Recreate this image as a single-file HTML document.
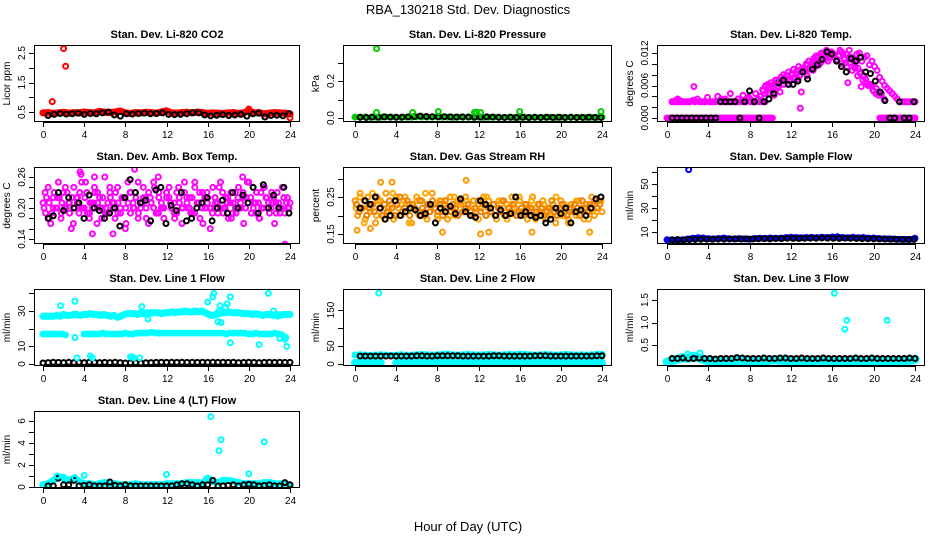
<!DOCTYPE html>
<html><head><meta charset="utf-8"><title>RBA_130218 Std. Dev. Diagnostics</title>
<style>
html,body{margin:0;padding:0;background:#fff;}
svg{display:block;font-family:"Liberation Sans",sans-serif;}
</style></head>
<body>
<svg id="chart" width="936" height="540" viewBox="0 0 936 540" xmlns="http://www.w3.org/2000/svg">
<text x="468" y="14" text-anchor="middle" font-size="13">RBA_130218  Std. Dev. Diagnostics</text>
<text x="468" y="531" text-anchor="middle" font-size="13">Hour of Day (UTC)</text>
</svg>
<script>
// ---- data (x spread evenly over [start,end] hours) ----
const xTicks = [0,4,8,12,16,20,24];

const co2Red = [0.47,0.48,0.45,0.47,0.49,0.46,0.48,0.47,0.5,0.48,0.47,0.52,0.49,0.48,0.5,0.53,0.47,0.45,0.48,0.47,0.49,0.48,0.46,0.5,0.54,0.47,0.46,0.48,0.49,0.47,0.5,0.48,0.45,0.47,0.46,0.45,0.47,0.48,0.45,0.47,0.55,0.47,0.48,0.44,0.46,0.48,0.47,0.46,0.44];
const co2Black = [0.38,0.42,0.45,0.43,0.44,0.46,0.42,0.45,0.44,0.47,0.5,0.4,0.36,0.44,0.43,0.45,0.46,0.44,0.45,0.47,0.42,0.41,0.42,0.44,0.48,0.47,0.4,0.37,0.39,0.41,0.38,0.4,0.42,0.36,0.44,0.46,0.33,0.38,0.39,0.37,0.44];
const co2OutX = [0.9,2.0,2.2,20.0,24.0];
const co2OutY = [0.85,2.65,2.05,0.6,0.3];

const presGreen = [0.005,0.004,0.006,0.003,0.005,0.004,0.006,0.005,0.004,0.003,0.005,0.004,0.006,0.005,0.004,0.005,0.006,0.004,0.005,0.003,0.005,0.004,0.006,0.004,0.005,0.003,0.004,0.005,0.003,0.004,0.005,0.003,0.004,0.005,0.003,0.004,0.003,0.004,0.005,0.003,0.004,0.003,0.004,0.003,0.005,0.003,0.004,0.003,0.005];
const presBlack = [0.004,0.003,0.005,0.004,0.006,0.005,0.004,0.005,0.006,0.008,0.01,0.008,0.007,0.006,0.007,0.006,0.005,0.006,0.005,0.004,0.005,0.006,0.005,0.004,0.003,0.004,0.003,0.004,0.003,0.004,0.003,0.004,0.003,0.004,0.003,0.004,0.003,0.003,0.004,0.003,0.003];
const presOutX = [2.1,2.1,5.6,8.1,11.6,11.8,12.2,16.0,23.9];
const presOutY = [0.375,0.03,0.03,0.035,0.03,0.032,0.03,0.035,0.035];

const tempMagA = [0.003,0.003,0.003,0.003,0.003,0.003,0.003,0.003,0.0032,0.003,0.0035,0.003,0.003,0.003,0.0038,0.003,0.003,0.003,0.004,0.003,0.003,0.0035,0.003,0.0045,0.003,0.003,0.0035,0.003,0.0042,0.003,0.0038,0.003,0.003,0.0045,0.0035,0.004,0.005,0.006,0.0055,0.0065,0.006,0.007,0.0068,0.0075,0.008,0.0072,0.0085,0.008,0.009,0.0082,0.0095,0.0088,0.0092,0.01,0.0105,0.0098,0.011,0.0115,0.0108,0.012,0.0118,0.0125,0.0112,0.0122,0.0118,0.0105,0.0115,0.0122,0.011,0.0118,0.0125,0.0112,0.0108,0.0118,0.012,0.0105,0.0112,0.0115,0.0098,0.0105,0.0095,0.0088,0.0075,0.0068,0.006,0.0055,0.005,0.0045,0.004,0.0035,0.003,0.003,0.003,0.003,0.003,0.003,0.003];
const tempMagB = [0.0058,0.0045,0.006,0.0042,0.0055,0.0048,0.0068,0.007,0.0062,0.008,0.0075,0.0072,0.0085,0.009,0.0078,0.0095,0.0088,0.0102,0.0098,0.0108,0.0112,0.0105,0.012,0.0115,0.0108,0.0125,0.0118,0.0102,0.0112,0.0108,0.0095,0.0092,0.0085,0.0078,0.0065,0.006,0.0052,0.0045,0.0048];
const tempMagE = [0.004,0.0052,0.0045,0.0062,0.0055,0.0048,0.0065,0.0058,0.007,0.0062,0.0078,0.0068,0.0082,0.0072,0.0088,0.0078,0.0092,0.0085,0.0098,0.009,0.0105,0.0095,0.0112,0.0102,0.0118,0.0108,0.0122,0.0112,0.0118,0.0105,0.0115,0.01,0.0108,0.0095,0.0102,0.0088,0.0092,0.0078,0.0082,0.007,0.0072,0.006,0.0062,0.005,0.0055,0.0042,0.0045,0.0035];
const tempMagF = [0.003,0.0035,0.003,0.003,0.0032,0.003,0.003,0.003,0.003,0.0035,0.003,0.003,0.003,0.003,0.0038,0.003,0.003,0.003];
const tempMagC = [0,0,0,0,0,0,0,0,0,0,0,0,0,0,0,0,0,0,0,0,0,0,0,0,0,0,0,0,0,0,0,0,0,0,0,0,0,0,0,0,0];
const tempMagD = [0,0,0,0,0,0,0,0,0,0,0,0,0,0,0];
const tempBlack = [0,0,0,0,0,0,0,0,0,0,0.003,0.003,0.003,0.003,0,0.003,0.005,0.003,0,0.003,0.0035,0.0045,0.0065,0.007,0.0062,0.0062,0.0068,0.0085,0.0072,0.009,0.0098,0.0108,0.0122,0.0118,0.0105,0.0095,0.0085,0.011,0.0105,0.0112,0.0085,0.0082,0.0068,0.0048,0.0032,0,0,0.003,0,0,0.003];
const tempOutX = [2.6,12.9,13.0,10.5,17.5,18.8];
const tempOutY = [0.0058,0.0018,0.0048,0.007,0.0065,0.0058];

const boxMag = [0.21,0.19,0.24,0.17,0.22,0.2,0.25,0.18,0.23,0.2,0.21,0.16,0.24,0.22,0.19,0.25,0.2,0.23,0.18,0.21,0.24,0.17,0.22,0.2,0.26,0.19,0.23,0.21,0.18,0.24,0.2,0.22,0.16,0.25,0.19,0.21,0.23,0.18,0.2,0.24,0.22,0.17,0.21,0.25,0.19,0.23,0.2,0.18,0.22,0.24,0.2,0.19,0.23,0.21,0.17,0.25,0.2,0.22,0.19,0.24,0.21,0.18,0.23,0.2,0.22,0.16,0.24,0.21,0.19,0.25,0.2,0.22,0.18,0.23,0.21,0.19,0.24,0.2,0.17,0.22,0.25,0.19,0.21,0.23,0.18,0.2,0.24,0.22,0.19,0.21,0.17,0.23,0.2,0.24,0.19,0.22,0.21];
const boxMag2 = [0.23,0.18,0.2,0.22,0.19,0.24,0.21,0.17,0.22,0.2,0.25,0.19,0.21,0.23,0.18,0.2,0.24,0.21,0.19,0.22,0.17,0.23,0.2,0.25,0.21,0.18,0.22,0.24,0.19,0.2,0.23,0.21,0.18,0.24,0.2,0.22,0.19,0.25,0.21,0.17,0.23,0.2,0.22,0.24,0.19,0.21,0.18,0.23,0.2,0.22,0.25,0.19,0.21,0.18,0.24,0.2,0.23,0.21,0.19,0.22,0.2];
const boxMag3 = [0.2,0.22,0.21,0.19,0.23,0.2,0.22,0.21,0.2,0.23,0.19,0.22,0.2,0.21,0.23,0.2,0.22,0.19,0.21,0.2,0.23,0.21,0.2,0.22,0.19,0.21,0.22,0.2,0.23,0.21,0.19,0.22,0.2,0.21,0.23,0.2,0.22,0.19,0.21,0.22,0.2,0.23,0.21,0.2,0.19,0.22,0.21,0.2,0.23,0.22,0.2,0.21,0.19,0.22,0.2,0.23,0.21,0.2,0.22,0.19,0.21,0.23,0.2,0.22,0.21,0.2,0.19,0.22,0.21,0.2,0.23,0.2,0.22,0.21,0.19,0.2,0.22,0.21,0.23,0.2,0.21,0.22,0.2,0.19,0.21,0.23,0.2,0.22,0.21,0.2,0.22,0.19,0.21,0.2,0.22,0.21,0.2];
const boxBlack = [0.18,0.185,0.23,0.195,0.22,0.2,0.21,0.18,0.225,0.2,0.195,0.18,0.19,0.2,0.165,0.22,0.255,0.23,0.21,0.215,0.175,0.235,0.24,0.17,0.205,0.195,0.23,0.175,0.18,0.2,0.21,0.22,0.175,0.2,0.215,0.19,0.23,0.2,0.225,0.21,0.24,0.19,0.245,0.2,0.225,0.2,0.24,0.19];
const boxOutX = [3.6,3.7,8.9,5.0,11.2,19.4,23.5,4.8,6.8];
const boxOutY = [0.27,0.265,0.275,0.26,0.26,0.26,0.13,0.15,0.15];

const rhOrA = [0.24,0.2,0.26,0.22,0.19,0.25,0.21,0.23,0.18,0.24,0.22,0.2,0.26,0.21,0.23,0.19,0.25,0.22,0.2,0.24,0.21,0.23,0.18,0.22,0.25,0.2,0.24,0.21,0.19,0.23,0.26,0.22,0.2,0.24,0.21,0.23,0.19,0.25,0.22,0.2,0.24,0.23,0.21,0.25,0.22,0.2,0.24,0.21,0.23,0.22,0.25,0.2,0.24,0.21,0.23,0.19,0.22,0.24,0.2,0.23,0.21,0.25,0.22,0.2,0.24,0.21,0.23,0.19,0.22,0.25,0.2,0.23,0.21,0.24,0.19,0.22,0.2,0.23,0.18,0.21,0.24,0.2,0.22,0.19,0.23,0.21,0.2,0.24,0.22,0.19,0.23,0.21,0.25,0.2,0.22,0.24,0.21];
const rhOrB = [0.22,0.25,0.18,0.23,0.26,0.2,0.24,0.19,0.22,0.26,0.2,0.23,0.25,0.18,0.22,0.24,0.2,0.26,0.21,0.23,0.19,0.24,0.22,0.2,0.25,0.23,0.21,0.24,0.2,0.22,0.19,0.23,0.25,0.21,0.2,0.24,0.22,0.19,0.23,0.21,0.25,0.2,0.22,0.24,0.19,0.21,0.23,0.2,0.22,0.25,0.2,0.23,0.18,0.21,0.24,0.2,0.22,0.19,0.23,0.21,0.24];
const rhOrC = [0.23,0.21,0.22,0.24,0.2,0.22,0.23,0.21,0.25,0.22,0.2,0.23,0.21,0.24,0.22,0.2,0.23,0.25,0.21,0.22,0.24,0.2,0.23,0.22,0.21,0.24,0.22,0.2,0.23,0.21,0.24,0.22,0.21,0.23,0.2,0.24,0.22,0.21,0.23,0.22,0.2,0.24,0.21,0.22,0.23,0.21,0.2,0.22,0.24,0.21,0.23,0.2,0.22,0.21,0.23,0.2,0.22,0.21,0.24,0.2,0.22,0.21,0.23,0.2,0.21,0.22,0.2,0.23,0.21,0.22,0.2,0.21,0.23,0.22,0.2,0.21,0.22,0.24,0.21,0.2,0.22,0.23,0.21,0.2,0.22,0.21,0.23,0.22,0.2,0.24,0.22,0.21,0.23,0.22,0.24,0.22,0.23];
const rhBlack = [0.22,0.24,0.23,0.25,0.22,0.19,0.2,0.24,0.2,0.21,0.22,0.215,0.2,0.205,0.23,0.18,0.22,0.21,0.225,0.205,0.245,0.21,0.2,0.195,0.24,0.23,0.22,0.2,0.215,0.2,0.205,0.25,0.2,0.21,0.2,0.195,0.2,0.18,0.19,0.22,0.205,0.22,0.18,0.21,0.215,0.2,0.22,0.245,0.25];
const rhOutX = [2.5,3.6,10.8,0.2,1.5,12.2,8.5,13.0,17.2,22.8];
const rhOutY = [0.29,0.29,0.295,0.16,0.165,0.15,0.155,0.155,0.155,0.155];

const sfBlue = [3.5,3.4,3.6,3.5,4.2,4.8,5.2,5.0,4.5,4.3,4.6,5.0,4.4,4.2,4.5,4.3,4.0,4.6,4.8,4.7,5.0,4.8,4.9,5.3,5.6,5.4,5.2,5.4,5.5,5.3,5.6,5.4,5.8,6.0,5.4,5.2,5.6,5.2,5.4,4.9,5.0,4.6,4.4,4.3,4.2,4.0,3.9,3.8,4.8];
const sfBlack = [3.4,3.5,3.4,3.6,3.8,3.9,4.0,3.9,4.1,4.0,4.2,4.3,4.1,4.3,4.2,4.4,4.5,4.3,4.6,4.5,4.8,4.7,4.6,4.8,4.9,4.8,5.0,4.9,4.8,4.7,4.9,4.8,4.6,4.5,4.4,4.3,4.2,4.1,4.0,3.9,3.8,3.7,3.8];
const sfOutX = [2.1];
const sfOutY = [62];

const l1Upper = [27,27,27,27,27.5,27,28,27.5,27.5,28,28,27.5,28,28,28.5,28,28,27.5,28,27.5,27,27.5,26.5,27,28,28.5,28.5,28.5,28,29,28.5,29,29,29,29,28.5,29,29,29.5,29,29.5,29.5,30,29.5,29.5,30,29.5,30,29,28,27.5,28,28.5,29,29,29.5,29,29,29,28.5,28.5,28.5,28,28.5,28,27.5,28,28,27.5,28,27.5,28,28,28];
const l1Lower = [17,17,17,17,17,17,16.5,null,null,null,null,17,17,17,17,17,17.5,17,17,17,17,17,17.5,17,17,17.5,17.5,17.5,17.5,18,17.5,17.5,17.5,17.5,17.5,17.5,17.5,17.5,17.5,17.5,17.5,17.5,17.5,17.5,17.5,17.5,17.5,17.5,17.5,17,17.5,17.5,17.5,17.5,17.5,17,17,17.5,17,17,17,17,17.5,17,16.5,15];
const l1Black = [0.6,0.8,1.0,0.9,0.8,1.0,0.8,0.9,0.8,1.0,0.9,0.8,0.9,0.8,1.0,0.8,0.6,0.7,0.8,0.6,0.7,0.8,0.9,1.0,0.9,1.0,0.9,1.0,0.9,1.0,0.9,1.0,0.9,1.0,0.9,1.0,0.9,1.0,0.8,0.9,1.0,0.9,0.8,0.9,1.0,0.9,1.0,0.9,0.9];
const l1OutX = [1.7,3.1,3.1,3.3,8.5,9.4,9.6,10.2,4.6,4.8,8.6,8.8,16.0,16.5,16.6,17.1,17.0,17.3,17.2,17.7,17.9,18.2,18.2,21.0,21.9,22.4,22.8,23.0,23.5,23.7,23.4];
const l1OutY = [33,35.5,15,3.5,4,3.5,32.5,25.5,4.5,3.5,4,3.5,35,38,40,30,24,23.5,33,32,34,12,38,11,40,30,27,14.5,14,10,28];

const l2Upper = [25,26,25,24,25,26,25,24,25,26,25,25,26,27,26,25,26,27,28,26,25,26,27,26,25,26,27,26,25,26,27,26,28,27,26,25,26,27,26,25,26,27,26,25,26,25,26,27,27];
const l2Lower = [3,3,3,3,3,3,null,null,3,3,4,3,4,3,4,3,4,5,4,3,4,3,4,3,4,3,4,5,4,3,4,3,4,3,4,3,4,3,4,5,4,3,4,3,4,3,4,3,3];
const l2Black = [22,22,22,22,22,22,22,22,22,22,22,23,23,22,22,23,23,23,23,23,22,22,22,22,22,22,23,23,22,22,22,22,22,22,23,23,23,22,22,22,22,22,22,22,22,22,23,23];
const l2OutX = [2.3];
const l2OutY = [197];

const l3Cyan = [0.12,0.15,0.18,0.22,0.2,0.25,0.22,0.18,0.16,0.14,0.15,0.14,0.16,0.15,0.17,0.15,0.14,0.16,0.15,0.14,0.16,0.18,0.15,0.14,0.16,0.15,0.14,0.16,0.15,0.17,0.15,0.16,0.14,0.15,0.16,0.14,0.15,0.16,0.14,0.15,0.16,0.15,0.14,0.16,0.15,0.14,0.15,0.16,0.18];
const l3Black = [0.2,0.2,0.21,0.2,0.2,0.21,0.2,0.2,0.19,0.2,0.2,0.2,0.22,0.21,0.2,0.2,0.2,0.21,0.2,0.2,0.21,0.21,0.2,0.2,0.21,0.2,0.2,0.2,0.21,0.2,0.2,0.2,0.2,0.2,0.21,0.2,0.2,0.21,0.2,0.2,0.2,0.2,0.2,0.2,0.21,0.2];
const l3OutX = [16.2,17.2,17.4,21.3,2.0,3.2];
const l3OutY = [1.65,0.85,1.05,1.05,0.3,0.32];

const l4Cyan = [0.2,0.3,0.6,0.9,0.8,0.6,0.8,0.5,0.3,0.3,0.2,0.3,0.4,0.3,0.3,0.2,0.2,0.2,0.3,0.2,0.2,0.2,0.2,0.2,0.3,0.3,0.3,0.3,0.4,0.4,0.4,0.3,0.8,0.5,0.4,0.6,0.6,0.5,0.4,0.3,0.3,0.3,0.3,0.4,0.4,0.3,0.3,0.2,0.2];
const l4Black = [0.1,0.1,0.8,0.2,0.2,0.6,0.1,0.15,0.2,0.1,0.1,0.1,0.45,0.15,0.1,0.2,0.1,0.1,0.1,0.1,0.1,0.1,0.1,0.1,0.1,0.2,0.3,0.3,0.2,0.1,0.2,0.2,0.6,0.1,0.1,0.15,0.2,0.1,0.2,0.25,0.2,0.1,0.15,0.2,0.1,0.1,0.4,0.2];
const l4OutX = [16.3,17.1,17.3,21.5,12.0,4.0,20.0,1.4,2.0,3.1];
const l4OutY = [6.4,3.3,4.3,4.1,1.15,1.05,1.2,1.0,0.9,0.85];

const yTicks1 = [0.5,1,1.5,2,2.5], yLab1 = [0.5,1.5,2.5], yTxt1 = ["0.5","1.5","2.5"];
const yTicks2 = [0,0.1,0.2,0.3], yLab2 = [0,0.2], yTxt2 = ["0.0","0.2"];
const yTicks3 = [0,0.002,0.004,0.006,0.008,0.010,0.012], yLab3 = [0,0.006,0.012], yTxt3 = ["0.000","0.006","0.012"];
const yTicks4 = [0.14,0.16,0.18,0.20,0.22,0.24,0.26], yLab4 = [0.14,0.20,0.26], yTxt4 = ["0.14","0.20","0.26"];
const yTicks5 = [0.15,0.20,0.25,0.30], yLab5 = [0.15,0.25], yTxt5 = ["0.15","0.25"];
const yTicks6 = [10,20,30,40,50,60], yLab6 = [10,30,50], yTxt6 = ["10","30","50"];
const yTicks7 = [0,10,20,30,40], yLab7 = [0,10,30], yTxt7 = ["0","10","30"];
const yTicks8 = [0,50,100,150], yLab8 = [0,50,150], yTxt8 = ["0","50","150"];
const yTicks9 = [0.5,1.0,1.5], yLab9 = [0.5,1.0,1.5], yTxt9 = ["0.5","1.0","1.5"];
const yTicks10 = [0,1,2,3,4,5,6], yLab10 = [0,2,4,6], yTxt10 = ["0","2","4","6"];

// ---- layout ----
const NS = "http://www.w3.org/2000/svg";
const svg = document.getElementById('chart');
const COLS = [{bx0:34,bx1:300,x0:43,x24:290},{bx0:343,bx1:612,x0:355,x24:602},{bx0:657,bx1:925,x0:667,x24:915}];
const ROWS = [{by0:45,by1:122},{by0:167,by1:244},{by0:289,by1:366},{by0:411,by1:488}];

function mk(tag, attrs, parent){const e=document.createElementNS(NS,tag);for(const k in attrs)e.setAttribute(k,attrs[k]);(parent||svg).appendChild(e);return e;}

const MAG='#ff00ff', CYA='#00ffff';
const panels = [
 {id:'co2',title:'Stan. Dev. Li-820 CO2',ylab:'Licor ppm',r:0,c:0,a:[0.5,112,2.5,53],yt:yTicks1,yl:yLab1,ytx:yTxt1,
  series:[{v:co2Red,s:0,e:24,col:'#ff0000',band:7},{v:co2Black,s:0.5,e:23.9,col:'#000'}],out:{x:co2OutX,y:co2OutY,col:'#ff0000'}},
 {id:'pressure',title:'Stan. Dev. Li-820 Pressure',ylab:'kPa',r:0,c:1,a:[0,118,0.2,81],yt:yTicks2,yl:yLab2,ytx:yTxt2,
  series:[{v:presGreen,s:0,e:24,col:'#00cc00',band:5},{v:presBlack,s:0.5,e:23.9,col:'#000'}],out:{x:presOutX,y:presOutY,col:'#00cc00'}},
 {id:'li820-temp',title:'Stan. Dev. Li-820 Temp.',ylab:'degrees C',r:0,c:2,a:[0,118,0.012,53],yt:yTicks3,yl:yLab3,ytx:yTxt3,
  series:[{v:tempMagA,s:0.5,e:24,col:MAG},{v:tempMagF,s:0.5,e:9.5,col:MAG,band:6},{v:tempMagB,s:9.5,e:20.5,col:MAG},{v:tempMagE,s:9.0,e:21.0,col:MAG},{v:tempMagC,s:0,e:10.2,col:MAG,band:6},{v:tempMagD,s:20.6,e:24,col:MAG,band:6},{v:tempBlack,s:0.5,e:23.9,col:'#000'}],out:{x:tempOutX,y:tempOutY,col:MAG}},
 {id:'amb-box-temp',title:'Stan. Dev. Amb. Box Temp.',ylab:'degrees C',r:1,c:0,a:[0.14,239,0.26,177],yt:yTicks4,yl:yLab4,ytx:yTxt4,
  series:[{v:boxMag,s:0,e:24,col:MAG},{v:boxMag2,s:0.2,e:23.8,col:MAG},{v:boxMag3,s:0.1,e:23.9,col:MAG},{v:boxBlack,s:0.5,e:23.9,col:'#000'}],out:{x:boxOutX,y:boxOutY,col:MAG}},
 {id:'gas-stream-rh',title:'Stan. Dev. Gas Stream RH',ylab:'percent',r:1,c:1,a:[0.15,234,0.25,197],yt:yTicks5,yl:yLab5,ytx:yTxt5,
  series:[{v:rhOrA,s:0,e:24,col:'#ff9900'},{v:rhOrB,s:0.1,e:23.9,col:'#ffaa00'},{v:rhOrC,s:0.15,e:23.8,col:'#f08000'},{v:rhBlack,s:0.5,e:23.9,col:'#000'}],out:{x:rhOutX,y:rhOutY,col:'#ff9900'}},
 {id:'sample-flow',title:'Stan. Dev. Sample Flow',ylab:'ml/min',r:1,c:2,a:[10,232,50,184],yt:yTicks6,yl:yLab6,ytx:yTxt6,
  series:[{v:sfBlue,s:0,e:24,col:'#0000ff',band:6},{v:sfBlack,s:0.5,e:23.9,col:'#000'}],out:{x:sfOutX,y:sfOutY,col:'#0000ff'}},
 {id:'line1-flow',title:'Stan. Dev. Line 1 Flow',ylab:'ml/min',r:2,c:0,a:[0,364,30,311],yt:yTicks7,yl:yLab7,ytx:yTxt7,
  series:[{v:l1Upper,s:0,e:24,col:CYA,band:7},{v:l1Lower,s:0,e:23.6,col:CYA,band:6},{v:l1Black,s:0,e:24,col:'#000'}],out:{x:l1OutX,y:l1OutY,col:CYA}},
 {id:'line2-flow',title:'Stan. Dev. Line 2 Flow',ylab:'ml/min',r:2,c:1,a:[0,364,150,310],yt:yTicks8,yl:yLab8,ytx:yTxt8,
  series:[{v:l2Upper,s:0,e:24,col:CYA,band:6},{v:l2Lower,s:0,e:24,col:CYA,band:8},{v:l2Black,s:0.5,e:24,col:'#000'}],out:{x:l2OutX,y:l2OutY,col:CYA}},
 {id:'line3-flow',title:'Stan. Dev. Line 3 Flow',ylab:'ml/min',r:2,c:2,a:[0.5,345,1.5,300],yt:yTicks9,yl:yLab9,ytx:yTxt9,
  series:[{v:l3Cyan,s:0,e:24,col:CYA,band:9},{v:l3Black,s:0.5,e:24,col:'#000'}],out:{x:l3OutX,y:l3OutY,col:CYA}},
 {id:'line4-flow',title:'Stan. Dev. Line 4 (LT) Flow',ylab:'ml/min',r:3,c:0,a:[0,487,6,421],yt:yTicks10,yl:yLab10,ytx:yTxt10,
  series:[{v:l4Cyan,s:0,e:24,col:CYA,band:7},{v:l4Black,s:0.5,e:24,col:'#000'}],out:{x:l4OutX,y:l4OutY,col:CYA}}
];

panels.forEach(p=>{
  const C=COLS[p.c], R=ROWS[p.r];
  const g=mk('g',{});
  
  
  const xs=h=>C.x0+(C.x24-C.x0)*h/24;
  const ys=v=>p.a[1]+(v-p.a[0])*(p.a[3]-p.a[1])/(p.a[2]-p.a[0]);
  const clip='clip-'+p.id;
  const cp=mk('clipPath',{id:clip},g);
  mk('rect',{x:C.bx0,y:R.by0,width:C.bx1-C.bx0,height:R.by1-R.by0},cp);
  const t=mk('text',{x:(C.bx0+C.bx1)/2,y:R.by0-7,'text-anchor':'middle','font-size':'11','font-weight':'bold'},g);
  t.textContent=p.title;
  
  
  const yl=mk('text',{x:0,y:0,'text-anchor':'middle','font-size':'10',transform:`translate(${C.bx0-24},${(R.by0+R.by1)/2}) rotate(-90)`},g);
  yl.textContent=p.ylab;
  
  
  const pts=mk('g',{'clip-path':`url(#${clip})`,fill:'none','stroke-width':'2'},g);
  
  
  p.series.forEach(s=>{
    const n=s.v.length;
    const hx=i=>s.s+(s.e-s.s)*(n>1?i/(n-1):0);
    if(s.band){
      let seg=[];
      const flush=()=>{if(seg.length){const pl=mk('polyline',{points:seg.join(' '),stroke:s.col,'stroke-width':s.band,'stroke-linejoin':'round','stroke-linecap':'round',fill:'none'},pts);
        
        
        seg=[];}};
      s.v.forEach((v,i)=>{if(v===null){flush();return;}seg.push(xs(hx(i)).toFixed(1)+','+ys(v).toFixed(1));});
      flush();
    }
    s.v.forEach((v,i)=>{
      if(v===null) return;
      const c=mk('circle',{cx:xs(hx(i)),cy:ys(v),r:2.5,stroke:s.col},pts);
      
      
    });
  });
  p.out.x.forEach((h,i)=>{
    const c=mk('circle',{cx:xs(h),cy:ys(p.out.y[i]),r:2.5,stroke:p.out.col},pts);
    
    
  });
  const b=mk('rect',{x:C.bx0+0.5,y:R.by0+0.5,width:C.bx1-C.bx0-1,height:R.by1-R.by0-1,fill:'none',stroke:'#000','stroke-width':'1'},g);
  
  
  const xa=mk('g',{stroke:'#000','stroke-width':'1'},g);
  
  
  mk('line',{x1:xs(0),x2:xs(24),y1:R.by1+0.5,y2:R.by1+0.5},xa);
  xTicks.forEach(tk=>{
    const X=Math.round(xs(tk))+0.5;
    mk('line',{x1:X,x2:X,y1:R.by1,y2:R.by1+5},xa);
    const tt=mk('text',{x:X,y:R.by1+16,'text-anchor':'middle','font-size':'10',stroke:'none',fill:'#000'},xa);
    tt.textContent=tk;
    
    
  });
  const ya=mk('g',{stroke:'#000','stroke-width':'1'},g);
  
  
  const yy=p.yt.map(ys);
  mk('line',{x1:C.bx0+0.5,x2:C.bx0+0.5,y1:Math.min(...yy),y2:Math.max(...yy)},ya);
  p.yt.forEach(tk=>{
    const Y=Math.round(ys(tk))+0.5;
    mk('line',{x1:C.bx0-5,x2:C.bx0,y1:Y,y2:Y},ya);
  });
  p.yl.forEach((tk,i)=>{
    const Y=ys(tk);
    const tt=mk('text',{x:0,y:0,'text-anchor':'middle','font-size':'10',stroke:'none',fill:'#000',transform:`translate(${C.bx0-9},${Y}) rotate(-90)`},ya);
    tt.textContent=p.ytx[i];
    
    
  });
});
</script>
</body></html>
